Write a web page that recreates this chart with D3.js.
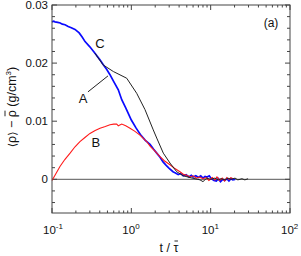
<!DOCTYPE html>
<html>
<head>
<meta charset="utf-8">
<script src="https://cdn.jsdelivr.net/npm/d3@7"></script>
<style>
body { margin: 0; background: #fff; }
text { font-family: "Liberation Sans", Arial, sans-serif; fill: #111; }
</style>
</head>
<body>
<script>
var w = 301;
var h = 256;
var margin = {top: 5, right: 11, bottom: 43, left: 52};

// curve C (blue)
var cT = [0.1, 0.105, 0.109, 0.118, 0.127, 0.135, 0.146, 0.16, 0.175, 0.195, 0.22, 0.24, 0.261, 0.3, 0.348, 0.4, 0.443, 0.49, 0.538, 0.6, 0.685, 0.757, 0.85, 1.0, 1.15, 1.3, 1.5, 1.72, 1.9, 2.09, 2.3, 2.51, 2.75, 3.0, 3.35, 3.6, 3.9, 4.2, 4.5, 4.9, 5.3, 5.7, 6.0, 6.5, 7.0, 7.5, 8.0, 8.5, 9.0, 9.6, 10.2, 11.0, 11.8, 12.5, 13.3, 14.2, 15.0, 16.0, 17.0, 18.0, 19.0, 20.3];
var cV = [0.0271, 0.0272, 0.0271, 0.0270, 0.0269, 0.0267, 0.0266, 0.0263, 0.0261, 0.0258, 0.0252, 0.0245, 0.0237, 0.0228, 0.0217, 0.0206, 0.0197, 0.0189, 0.0180, 0.0168, 0.0154, 0.0137, 0.0123, 0.0102, 0.0088, 0.0077, 0.0067, 0.0060, 0.0052, 0.0045, 0.0038, 0.0030, 0.0024, 0.0019, 0.0013, 0.0011, 0.0008, 0.0010, 0.0006, 0.0008, 0.0004, 0.0007, 0.0004, 0.0006, 0.0003, 0.0006, 0.0002, 0.0005, 0.0004, 0.0006, 0.0001, -0.0002, -0.0003, 0.0001, -0.0004, 0.0000, -0.0002, 0.0001, -0.0003, 0.0001, -0.0001, 0.0000];

// curve B (red)
var bT = [0.1, 0.11, 0.126, 0.145, 0.169, 0.195, 0.225, 0.26, 0.301, 0.35, 0.403, 0.47, 0.538, 0.6, 0.654, 0.685, 0.757, 0.85, 0.962, 1.1, 1.285, 1.56, 1.72, 2.0, 2.3, 2.6, 3.07, 3.5, 4.1, 4.6, 5.0, 5.5, 6.0, 6.6, 7.3, 8.0, 8.8, 9.5, 10.5, 11.3, 12.0, 13.0, 14.0, 15.0, 16.0, 17.0, 18.0, 19.1];
var bV = [-0.0002, 0.0008, 0.0022, 0.0034, 0.0045, 0.0056, 0.0065, 0.0072, 0.0079, 0.0084, 0.0088, 0.0091, 0.0094, 0.0095, 0.0095, 0.0092, 0.0095, 0.0092, 0.0088, 0.0083, 0.0076, 0.0065, 0.0057, 0.0048, 0.0039, 0.0032, 0.0025, 0.0019, 0.0013, 0.0008, 0.0007, 0.0004, 0.0006, 0.0002, 0.0004, 0.0001, 0.0003, -0.0002, 0.0003, -0.0001, 0.0004, -0.0002, 0.0002, -0.0003, 0.0003, 0.0000, 0.0003, 0.0001];

// curve A (black)
var aT = [0.348, 0.44, 0.593, 0.874, 1.169, 1.486, 1.89, 2.09, 2.53, 3.07, 3.73, 4.52, 5.49, 7.34, 8.0, 8.9, 10.0, 11.3, 12.5, 13.5, 15.2, 16.5, 18.0, 20.3, 22.0, 24.8, 27.0, 29.6];
var aV = [0.0217, 0.0197, 0.01855, 0.0174, 0.0148, 0.0120, 0.0085, 0.0071, 0.0045, 0.0028, 0.0013, 0.0006, 0.0003, -0.0001, -0.0004, 0.0002, 0.0000, 0.0002, -0.0001, 0.0001, -0.0001, 0.0002, 0.0000, 0.0002, -0.0001, 0.0001, -0.0001, 0.0001];

var xTicks = [0.1, 1, 10, 100];
var xTickExp = ["-1", "0", "1", "2"];
var yTicks = [0, 0.01, 0.02, 0.03];
var yTickLabels = ["0", "0.01", "0.02", "0.03"];

// curve labels: text, t, value
var labelText = ["A", "B", "C"];
var labelT = [0.246, 0.358, 0.403];
var labelV = [0.0140, 0.0064, 0.0235];
var leaderT = [0.284, 0.508];
var leaderV = [0.01505, 0.0178];

var svg = d3.select("body").append("svg")
	.attr("width", w)
	.attr("height", h);

var x = d3.scaleLog().domain([0.1, 100]).range([margin.left, w - margin.right]);
var y = d3.scaleLinear().domain([-0.0058, 0.03]).range([h - margin.bottom, margin.top]);

var x0 = margin.left, x1 = w - margin.right, y0 = h - margin.bottom, y1 = margin.top;
var axisColor = "#444";

// zero line
svg.append("line")
	.attr("x1", x0).attr("x2", x1)
	.attr("y1", y(0)).attr("y2", y(0))
	.style("stroke", "#555").style("stroke-width", 1);

// minor / major ticks, x
var xMinor = [];
[0.1, 1, 10].forEach(function(d) {
	for (var k = 2; k < 10; k++) xMinor.push(d * k);
});
function xTickMarks(list, len) {
	list.forEach(function(d) {
		svg.append("line").attr("x1", x(d)).attr("x2", x(d)).attr("y1", y0).attr("y2", y0 - len)
			.style("stroke", axisColor);
		svg.append("line").attr("x1", x(d)).attr("x2", x(d)).attr("y1", y1).attr("y2", y1 + len)
			.style("stroke", axisColor);
	});
}
xTickMarks(xMinor, 2.5);
xTickMarks(xTicks, 5);

var yMinor = d3.range(-0.004, 0.0301, 0.002).filter(function(d) {
	return Math.abs(d / 0.01 - Math.round(d / 0.01)) > 0.01;
});
function yTickMarks(list, len) {
	list.forEach(function(d) {
		svg.append("line").attr("x1", x0).attr("x2", x0 + len).attr("y1", y(d)).attr("y2", y(d))
			.style("stroke", axisColor);
		svg.append("line").attr("x1", x1).attr("x2", x1 - len).attr("y1", y(d)).attr("y2", y(d))
			.style("stroke", axisColor);
	});
}
yTickMarks(yMinor, 3);
yTickMarks(yTicks, 5);

// curves
var line = d3.line()
	.x(function(d) { return x(d[0]); })
	.y(function(d) { return y(d[1]); });

function series(ts, vs) {
	return ts.map(function(t, i) { return [t, vs[i]]; });
}

svg.append("path").datum(series(cT, cV)).attr("d", line)
	.style("fill", "none").style("stroke", "#0a0aff").style("stroke-width", 1.7);
svg.append("path").datum(series(bT, bV)).attr("d", line)
	.style("fill", "none").style("stroke", "#ff1a1a").style("stroke-width", 1.1);
svg.append("path").datum(series(aT, aV)).attr("d", line)
	.style("fill", "none").style("stroke", "#222").style("stroke-width", 1);

// leader for A
svg.append("line")
	.attr("x1", x(leaderT[0])).attr("y1", y(leaderV[0]))
	.attr("x2", x(leaderT[1])).attr("y2", y(leaderV[1]))
	.style("stroke", "#222").style("stroke-width", 1);

// frame
svg.append("rect")
	.attr("x", x0).attr("y", y1)
	.attr("width", x1 - x0).attr("height", y0 - y1)
	.style("fill", "none").style("stroke", axisColor).style("stroke-width", 1);

// tick labels
svg.selectAll("text.ylab").data(yTicks).enter().append("text")
	.attr("class", "ylab")
	.attr("x", x0 - 4)
	.attr("y", function(d) { return y(d) + 4; })
	.attr("text-anchor", "end")
	.attr("font-size", "11.5px")
	.text(function(d, i) { return yTickLabels[i]; });

var xl = svg.selectAll("text.xlab").data(xTicks).enter().append("text")
	.attr("class", "xlab")
	.attr("x", function(d) { return x(d) - 9; })
	.attr("y", y0 + 21)
	.attr("font-size", "11.5px");
xl.append("tspan").text("10");
xl.append("tspan").attr("dy", -5).attr("font-size", "8px").text(function(d, i) { return xTickExp[i]; });

// put a bar over character i of a text element
function overbar(g, textEl, i, lift) {
	var box = textEl.node().getExtentOfChar(i);
	g.append("line")
		.attr("x1", box.x + 1).attr("x2", box.x + box.width - 0.5)
		.attr("y1", box.y + lift).attr("y2", box.y + lift)
		.style("stroke", "#111").style("stroke-width", 0.9);
}

// axis titles
var gx = svg.append("g");
var xt = gx.append("text")
	.attr("x", (x0 + x1) / 2 - 2)
	.attr("y", h - 4)
	.attr("text-anchor", "middle")
	.attr("font-size", "12.5px")
	.text("t / τ");
overbar(gx, xt, 4, 0);

var gy = svg.append("g")
	.attr("transform", "translate(16," + ((y0 + y1) / 2 - 2) + ") rotate(-90)");
var yt = gy.append("text")
	.attr("text-anchor", "middle")
	.attr("font-size", "12.5px");
yt.append("tspan").attr("font-family", "DejaVu Sans").attr("font-size", "11px").text("⟨");
yt.append("tspan").text("ρ");
yt.append("tspan").attr("font-family", "DejaVu Sans").attr("font-size", "11px").text("⟩");
yt.append("tspan").text(" − ρ (g/cm");
yt.append("tspan").attr("dy", -5).attr("font-size", "8px").text("3");
yt.append("tspan").attr("dy", 5).text(")");
overbar(gy, yt, 6, 0);

// curve labels
svg.selectAll("text.clab").data(labelText).enter().append("text")
	.attr("class", "clab")
	.attr("x", function(d, i) { return x(labelT[i]); })
	.attr("y", function(d, i) { return y(labelV[i]) + 5; })
	.attr("text-anchor", "middle")
	.attr("font-size", "13px")
	.text(function(d) { return d; });

svg.append("text")
	.attr("x", x(57.7))
	.attr("y", y(0.02695) + 4)
	.attr("text-anchor", "middle")
	.attr("font-size", "12px")
	.text("(a)");
</script>
</body>
</html>
